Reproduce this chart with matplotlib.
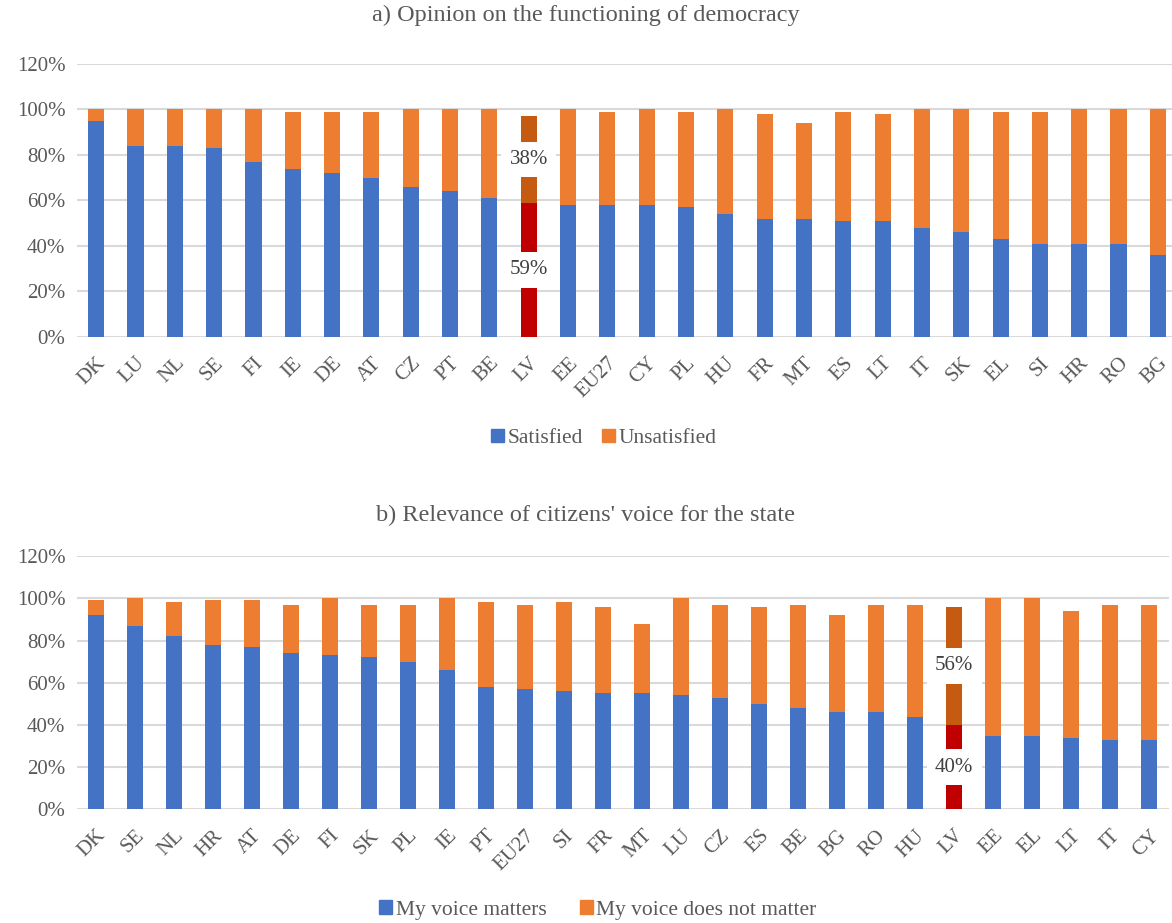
import matplotlib.pyplot as plt
import numpy as np

plt.rcParams['font.family'] = ['Liberation Serif', 'DejaVu Serif']

# ---------- data ----------
countries_a = ["DK", "LU", "NL", "SE", "FI", "IE", "DE", "AT", "CZ", "PT", "BE", "LV", "EE", "EU27",
               "CY", "PL", "HU", "FR", "MT", "ES", "LT", "IT", "SK", "EL", "SI", "HR", "RO", "BG"]
satisfied = [95, 84, 84, 83, 77, 74, 72, 70, 66, 64, 61, 59, 58, 58,
             58, 57, 54, 52, 52, 51, 51, 48, 46, 43, 41, 41, 41, 36]
unsatisfied = [5, 16, 16, 17, 23, 25, 27, 29, 34, 36, 39, 38, 42, 41,
               42, 42, 46, 46, 42, 48, 47, 52, 54, 56, 58, 59, 59, 64]

countries_b = ["DK", "SE", "NL", "HR", "AT", "DE", "FI", "SK", "PL", "IE", "PT", "EU27", "SI", "FR",
               "MT", "LU", "CZ", "ES", "BE", "BG", "RO", "HU", "LV", "EE", "EL", "LT", "IT", "CY"]
voice_matters = [92, 87, 82, 78, 77, 74, 73, 72, 70, 66, 58, 57, 56, 55,
                 55, 54, 53, 50, 48, 46, 46, 44, 40, 35, 35, 34, 33, 33]
voice_not = [7, 13, 16, 21, 22, 23, 27, 25, 27, 34, 40, 40, 42, 41,
             33, 46, 44, 46, 49, 46, 51, 53, 56, 65, 65, 60, 64, 64]

highlight = "LV"

BLUE = "#4472C4"
ORANGE = "#ED7D31"
RED = "#C00000"
DARK_ORANGE = "#C55A11"
GREY_TEXT = "#595959"
GRID = "#D9D9D9"


def stacked_panel(ax, cats, low, high, xmax):
    x = np.arange(len(cats))
    low = np.array(low)
    high = np.array(high)
    c_low = [RED if c == highlight else BLUE for c in cats]
    c_high = [DARK_ORANGE if c == highlight else ORANGE for c in cats]
    ax.bar(x, low, width=0.41, color=c_low, zorder=3)
    ax.bar(x, high, bottom=low, width=0.41, color=c_high, zorder=3)

    # data labels for the highlighted country
    i = cats.index(highlight)
    for val, base in [(low[i], 0), (high[i], low[i])]:
        ax.text(x[i], base + val / 2, f"{val}%", ha="center", va="center",
                fontsize=15, color="#404040", zorder=5,
                bbox=dict(boxstyle="square,pad=0.4", fc="white", ec="none"))

    ax.set_ylim(0, 120)
    ax.set_xlim(-0.5, xmax)
    ax.set_yticks(np.arange(0, 121, 20))
    ax.set_yticklabels([f"{v}%" for v in range(0, 121, 20)])
    ax.set_xticks(x)
    ax.set_xticklabels(cats, rotation=45, ha="right", rotation_mode="anchor")
    ax.grid(axis="y", color=GRID, linewidth=1.5, zorder=0)
    ax.tick_params(axis="both", length=0, labelsize=15, colors=GREY_TEXT)
    ax.tick_params(axis="x", pad=12)
    ax.tick_params(axis="y", pad=8)
    for s in ax.spines.values():
        s.set_visible(False)


fig = plt.figure(figsize=(11.72, 9.23), dpi=100)

ax1 = fig.add_axes([0.0653, 0.6349, 0.9347, 0.2958])
stacked_panel(ax1, countries_a, satisfied, unsatisfied, 27.36)
fig.text(0.5, 0.983, "a) Opinion on the functioning of democracy", ha="center", va="center",
         fontsize=17.5, color=GREY_TEXT)
h1 = [plt.Rectangle((0, 0), 1, 1, color=BLUE), plt.Rectangle((0, 0), 1, 1, color=ORANGE)]
fig.legend(h1, ["Satisfied", "Unsatisfied"], loc="center", bbox_to_anchor=(0.515, 0.525),
           ncol=2, frameon=False, fontsize=15.5, handlelength=0.6, handleheight=0.6,
           handletextpad=0.15, columnspacing=0.9, labelcolor=GREY_TEXT)

ax2 = fig.add_axes([0.0653, 0.123, 0.932, 0.2746])
stacked_panel(ax2, countries_b, voice_matters, voice_not, 27.5)
fig.text(0.5, 0.442, "b) Relevance of citizens' voice for the state", ha="center", va="center",
         fontsize=17.5, color=GREY_TEXT)
h2 = [plt.Rectangle((0, 0), 1, 1, color=BLUE), plt.Rectangle((0, 0), 1, 1, color=ORANGE)]
fig.legend(h2, ["My voice matters", "My voice does not matter"], loc="center",
           bbox_to_anchor=(0.51, 0.014), ncol=2, frameon=False, fontsize=15.5,
           handlelength=0.6, handleheight=0.6, handletextpad=0.15, columnspacing=1.55,
           labelcolor=GREY_TEXT)

fig.savefig("out.png", dpi=100)
